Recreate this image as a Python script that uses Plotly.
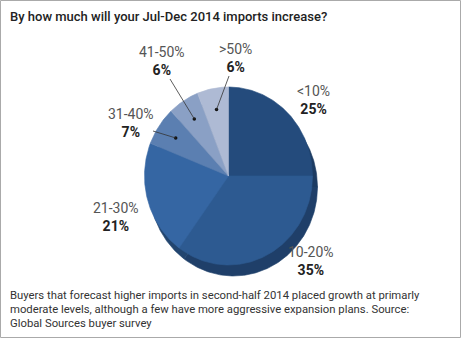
import numpy as np
import plotly.graph_objects as go

# Survey data
categories = ["<10%", "10-20%", "21-30%", "31-40%", "41-50%", ">50%"]
shares = [25, 35, 21, 7, 6, 6]
colors = ["#244b7c", "#2d5a91", "#3566a3", "#5b7fb1", "#8aa0c5", "#aebad4"]
side_colors = ["#1c3b62", "#1f3f69", "#22456f", "#2a4d7a", "#2f527e", "#325682"]

title = "By how much will your Jul-Dec 2014 imports increase?"
caption_lines = [
    "Buyers that forecast higher imports in second-half 2014 placed growth at primarly",
    "moderate levels, although a few have more aggressive expansion plans. Source:",
    "Global Sources buyer survey",
]

W, H = 461, 338
cx, cy = 228.5, 176.0      # pie centre (pixel space)
rx, ry = 84.0, 89.0        # top-face radii
depth_dx, depth_dy = 5.0, 11.0

total = float(sum(shares))
bounds = np.concatenate([[0.0], np.cumsum(shares) / total * 360.0])


def sector(a0, a1, ox=0.0, oy=0.0):
    t = np.radians(np.linspace(a0, a1, max(8, int((a1 - a0) * 1.5))))
    xs = cx + ox + rx * np.sin(t)
    ys = cy + oy - ry * np.cos(t)
    return (np.concatenate([[cx + ox], xs, [cx + ox]]),
            np.concatenate([[cy + oy], ys, [cy + oy]]))


fig = go.Figure()

# Side of the pie (drawn first, shifted down-right)
for i in range(len(shares)):
    xs, ys = sector(bounds[i], bounds[i + 1], depth_dx, depth_dy)
    fig.add_trace(go.Scatter(x=xs, y=ys, fill="toself", mode="lines",
                             fillcolor=side_colors[i],
                             line=dict(color=side_colors[i], width=0.6),
                             hoverinfo="skip", showlegend=False))

# Top face of the pie
for i in range(len(shares)):
    xs, ys = sector(bounds[i], bounds[i + 1])
    fig.add_trace(go.Scatter(x=xs, y=ys, fill="toself", mode="lines",
                             fillcolor=colors[i],
                             line=dict(color=colors[i], width=0.6),
                             name=categories[i], hoverinfo="name",
                             showlegend=False))

# Label positions (pixel space) and optional leader lines
label_pos = [(313, 100), (311, 261), (116, 217), (131, 123), (162, 61), (235, 58)]
leader_start = [None, None, None, (153, 131), (170, 79), (229, 76)]

dot_x, dot_y = [], []
for i, cat in enumerate(categories):
    lx, ly = label_pos[i]
    fig.add_annotation(x=lx, y=ly, xref="x", yref="y",
                       text=f"<span style='color:#555555'>{cat}</span><br>"
                            f"<b>{shares[i]}%</b>",
                       showarrow=False, align="center",
                       font=dict(family="Roboto", size=14, color="#222222"))
    if leader_start[i] is not None:
        mid = np.radians((bounds[i] + bounds[i + 1]) / 2)
        px = cx + 0.76 * rx * np.sin(mid)
        py = cy - 0.76 * ry * np.cos(mid)
        sx, sy = leader_start[i]
        fig.add_shape(type="line", x0=sx, y0=sy, x1=px, y1=py,
                      xref="x", yref="y", line=dict(color="#333333", width=0.8))
        dot_x.append(px)
        dot_y.append(py)

fig.add_trace(go.Scatter(x=dot_x, y=dot_y, mode="markers",
                         marker=dict(size=3.5, color="#111111"),
                         hoverinfo="skip", showlegend=False))

# Title and caption
fig.add_annotation(x=8, y=16, xref="x", yref="y", xanchor="left",
                   text=title, showarrow=False,
                   font=dict(family="Roboto", size=13, color="#222222", weight=500))
for k, line in enumerate(caption_lines):
    fig.add_annotation(x=8, y=295 + 14 * k, xref="x", yref="y", xanchor="left",
                       text=line, showarrow=False,
                       font=dict(family="Roboto", size=11.3, color="#333333"))

# Outer frame
fig.add_shape(type="rect", x0=0.5, y0=0.5, x1=W - 0.5, y1=H - 0.5,
              xref="x", yref="y", line=dict(color="#aaaaaa", width=1))

fig.update_layout(
    width=W, height=H,
    margin=dict(l=0, r=0, t=0, b=0),
    paper_bgcolor="white", plot_bgcolor="white",
    xaxis=dict(range=[0, W], visible=False, fixedrange=True),
    yaxis=dict(range=[H, 0], visible=False, fixedrange=True),
)

fig.write_html("out.html")
